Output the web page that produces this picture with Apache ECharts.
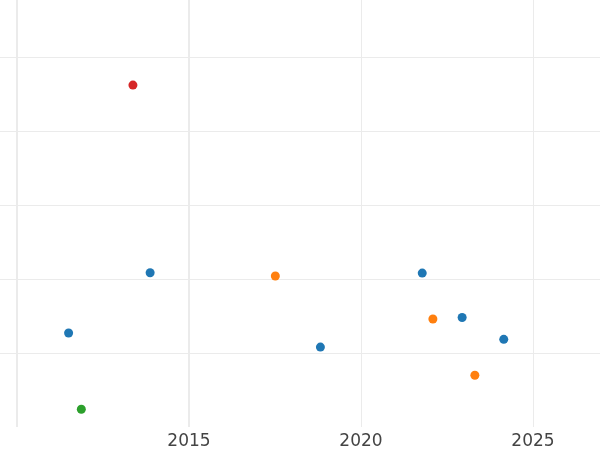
<!DOCTYPE html>
<html>
<head>
<meta charset="utf-8">
<script src="https://cdn.jsdelivr.net/npm/echarts@6/dist/echarts.min.js"></script>
<style>html,body{margin:0;padding:0;background:#fff}#c{width:600px;height:450px}</style>
</head>
<body>
<div id="c"></div>
<script>
// Data (x = year, y = value in gridline units)
const blueX = [2011.50, 2013.87, 2018.82, 2021.78, 2022.94, 2024.15];
const blueY = [1.27, 2.085, 1.08, 2.08, 1.48, 1.185];
const orangeX = [2017.51, 2022.09, 2023.31];
const orangeY = [2.04, 1.46, 0.70];
const greenX = [2011.87];
const greenY = [0.24];
const redX = [2013.37];
const redY = [4.62];
const xTickLabels = ['2015', '2020', '2025'];
const thickGridYears = [2010, 2015];

const colors = {blue: '#1f77b4', orange: '#ff7f0e', green: '#2ca02c', red: '#d62728'};
const zip = (xs, ys) => xs.map((x, i) => [x, ys[i]]);

const chart = echarts.init(document.getElementById('c'), null, {renderer: 'canvas'});
const mk = (name, xs, ys) => ({
  type: 'scatter', name, data: zip(xs, ys), symbolSize: 9,
  itemStyle: {color: colors[name], opacity: 1}, z: 5
});
chart.setOption({
  animation: false,
  grid: {left: -155, right: -105, top: -17, bottom: 23, containLabel: false, outerBoundsMode: 'none'},
  xAxis: {
    type: 'value', min: 2005, max: 2030, interval: 5,
    axisLine: {show: false}, axisTick: {show: false},
    axisLabel: {
      color: '#444', fontSize: 17, fontFamily: 'DejaVu Sans', margin: 6,
      formatter: v => xTickLabels.includes(String(v)) ? String(v) : ''
    },
    splitLine: {show: true, lineStyle: {color: '#ebebeb', width: 1}}
  },
  yAxis: {
    type: 'value', min: 0, max: 6, interval: 1,
    axisLine: {show: false}, axisTick: {show: false}, axisLabel: {show: false},
    splitLine: {show: true, showMinLine: false, lineStyle: {color: '#ebebeb', width: 1}}
  },
  series: [
    Object.assign(mk('blue', blueX, blueY), {
      markLine: {
        silent: true, symbol: 'none', label: {show: false}, z: 1,
        lineStyle: {color: '#ebebeb', width: 2, type: 'solid'},
        data: thickGridYears.map(x => ({xAxis: x}))
      }
    }),
    mk('orange', orangeX, orangeY),
    mk('green', greenX, greenY),
    mk('red', redX, redY)
  ]
});
</script>
</body>
</html>
